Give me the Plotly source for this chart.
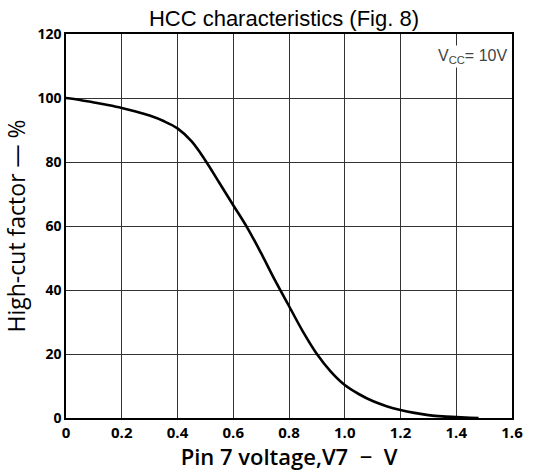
import plotly.graph_objects as go

voltage = [0, 0.05, 0.1, 0.15, 0.2, 0.25, 0.3, 0.35, 0.4, 0.45, 0.5, 0.55, 0.6,
           0.65, 0.7, 0.75, 0.8, 0.85, 0.9, 0.95, 1.0, 1.05, 1.1, 1.15, 1.2,
           1.25, 1.3, 1.35, 1.4, 1.45, 1.48]
high_cut = [100, 99.4, 98.6, 97.8, 96.9, 95.8, 94.5, 92.8, 90.5, 86.5, 80.5,
            73.5, 66.5, 59.5, 51.5, 43, 35, 27, 20, 14.5, 10.3, 7.5, 5.3, 3.7,
            2.5, 1.6, 0.9, 0.5, 0.3, 0.1, 0]

x_ticks = [0, 0.2, 0.4, 0.6, 0.8, 1.0, 1.2, 1.4, 1.6]
x_ticktext = ["0", "0.2", "0.4", "0.6", "0.8", "1.0", "1.2", "1.4", "1.6"]
y_ticks = [0, 20, 40, 60, 80, 100, 120]
y_ticktext = ["0", "20", "40", "60", "80", "100", "120"]

fig = go.Figure()
fig.add_trace(go.Scatter(
    x=voltage, y=high_cut, mode="lines",
    line=dict(color="black", width=2.6, shape="spline", smoothing=1.0),
    showlegend=False, hoverinfo="skip",
))

axis_common = dict(
    showline=True, linecolor="black", linewidth=1.5, mirror=True,
    showgrid=True, gridcolor="#333333", gridwidth=1,
    zeroline=False, ticks="",
)

fig.update_xaxes(range=[0, 1.6], tickvals=x_ticks, ticktext=x_ticktext,
                 tickfont=dict(family="Open Sans", size=15, color="black", weight="bold"),
                 title=dict(text="Pin 7 voltage,V7\u00a0\u00a0−\u00a0\u00a0V", standoff=2,
                            font=dict(family="Open Sans", size=22, color="black", weight=600)),
                 **axis_common)
fig.update_yaxes(range=[0, 120], tickvals=y_ticks, ticktext=y_ticktext,
                 tickfont=dict(family="Open Sans", size=14, color="black", weight="bold"),
                 title=dict(text="High-cut factor — %", standoff=6,
                            font=dict(family="Open Sans", size=23, color="black")),
                 **axis_common)

fig.add_annotation(
    x=1.6, y=113, xref="x", yref="y", xanchor="right", yanchor="middle",
    text="V<sub>CC</sub>= 10V", showarrow=False,
    font=dict(family="Liberation Sans Narrow, Liberation Sans", size=16, color="#444444"),
    bgcolor="white", xshift=-3,
)

fig.update_layout(
    width=544, height=471,
    margin=dict(l=66, r=32, t=34, b=50),
    paper_bgcolor="white", plot_bgcolor="white",
    title=dict(text="HCC characteristics (Fig. 8)", x=0.522, xanchor="center",
               y=0.962, yanchor="middle",
               font=dict(family="Liberation Sans", size=22, color="black")),
)

fig.write_html("out.html", config={"displayModeBar": False},
               post_script="document.body.style.margin='0';")
